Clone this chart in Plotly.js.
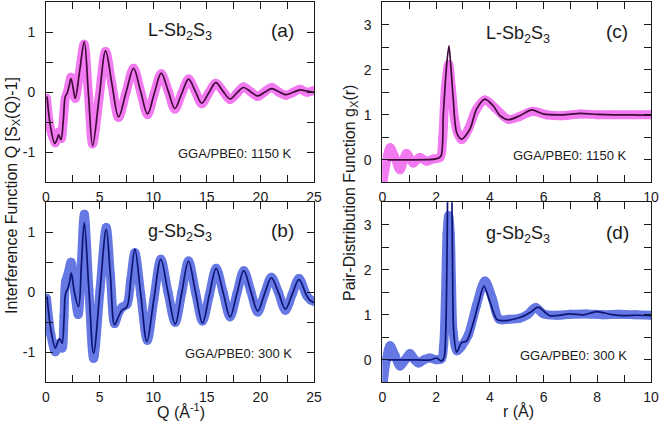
<!DOCTYPE html>
<html>
<head>
<meta charset="utf-8">
<script src="https://cdn.plot.ly/plotly-3.0.1.min.js"></script>
<style>html,body{margin:0;padding:0;background:#fff;}#chart{width:660px;height:424px;}</style>
</head>
<body>
<div id="chart"></div>
<script>
// ---------- Panel (a): L-Sb2S3, Q [S(Q)-1] ----------
var qA_exp = [0.05, 0.4, 0.85, 1.05, 1.2, 1.42, 1.62, 1.8, 1.96, 2.15, 2.33, 2.52, 2.73, 3.15, 3.55, 3.96, 4.35, 4.95, 5.56, 6.15, 6.77, 7.47, 8.17, 8.82, 9.47, 10.1, 10.75, 11.4, 12.02, 12.66, 13.3, 13.92, 14.53, 15.18, 15.84, 16.5, 17.17, 17.8, 18.42, 19.08, 19.75, 20.4, 21.06, 21.73, 22.4, 23.05, 23.7, 24.35, 25.0];
var vA_exp = [-0.1, -0.6, -0.84, -0.74, -0.66, -0.77, -0.45, -0.1, -0.02, 0.12, 0.25, 0.08, -0.1, 0.36, 0.8, -0.03, -0.86, -0.1, 0.68, 0.13, -0.42, 0.0, 0.40, 0.02, -0.37, -0.02, 0.31, 0.02, -0.28, -0.02, 0.22, 0.02, -0.19, -0.01, 0.15, 0.02, -0.12, -0.02, 0.09, 0.01, -0.07, 0.01, 0.08, 0.0, -0.05, 0.0, 0.05, 0.0, 0.03];
var qA_sim = [0.1, 0.4, 0.81, 1.0, 1.18, 1.4, 1.62, 1.8, 1.96, 2.15, 2.33, 2.52, 2.73, 3.15, 3.57, 3.96, 4.35, 4.95, 5.56, 6.15, 6.77, 7.47, 8.17, 8.82, 9.47, 10.1, 10.75, 11.4, 12.02, 12.66, 13.3, 13.92, 14.53, 15.18, 15.84, 16.5, 17.17, 17.8, 18.42, 19.08, 19.75, 20.4, 21.06, 21.73, 22.4, 23.05, 23.7, 24.35, 25.0];
var vA_sim = [-0.07, -0.55, -0.85, -0.8, -0.71, -0.79, -0.45, -0.07, -0.02, 0.1, 0.23, 0.08, -0.1, 0.37, 0.84, -0.03, -0.89, -0.1, 0.69, 0.14, -0.41, 0.0, 0.40, 0.02, -0.36, -0.02, 0.32, 0.02, -0.27, -0.02, 0.22, 0.02, -0.18, -0.01, 0.16, 0.02, -0.11, -0.01, 0.08, 0.01, -0.06, 0.0, 0.06, 0.01, -0.04, 0.0, 0.04, 0.02, 0.0];

// ---------- Panel (b): g-Sb2S3, Q [S(Q)-1] ----------
var qB_exp = [0.05, 0.45, 0.87, 1.05, 1.27, 1.5, 1.68, 1.83, 2.05, 2.33, 2.65, 3.0, 3.3, 3.57, 4.0, 4.44, 5.03, 5.62, 6.0, 6.4, 6.75, 7.1, 7.55, 7.9, 8.29, 8.85, 9.45, 10.06, 10.71, 11.38, 12.05, 12.67, 13.29, 13.95, 14.6, 15.23, 15.87, 16.52, 17.17, 17.81, 18.45, 19.1, 19.75, 20.38, 21.02, 21.68, 22.33, 22.97, 23.6, 24.3, 24.7, 25.0];
var vB_exp = [-0.1, -0.7, -0.99, -0.92, -0.85, -0.93, -0.4, 0.18, 0.3, 0.5, 0.05, -0.37, 0.5, 1.3, 0.05, -1.1, 0.02, 1.08, 0.3, -0.52, -0.35, -0.25, -0.2, 0.2, 0.66, -0.05, -0.8, -0.12, 0.55, 0.0, -0.5, 0.0, 0.52, 0.0, -0.48, -0.05, 0.40, 0.0, -0.41, -0.02, 0.36, 0.02, -0.33, -0.03, 0.25, 0.0, -0.3, -0.03, 0.23, -0.05, -0.13, -0.15];
var qB_sim = [0.1, 0.45, 0.87, 1.05, 1.27, 1.5, 1.68, 1.83, 2.05, 2.2, 2.36, 2.65, 3.04, 3.3, 3.57, 4.0, 4.44, 5.03, 5.62, 6.0, 6.4, 6.77, 7.08, 7.55, 7.9, 8.29, 8.85, 9.41, 10.06, 10.71, 11.38, 12.05, 12.67, 13.29, 13.95, 14.6, 15.23, 15.87, 16.52, 17.17, 17.81, 18.45, 19.1, 19.75, 20.38, 21.02, 21.68, 22.33, 22.97, 23.6, 24.3, 24.6, 25.0];
var vB_sim = [-0.07, -0.62, -0.93, -0.85, -0.77, -0.85, -0.45, -0.02, 0.07, 0.17, 0.32, 0.0, -0.24, 0.45, 1.16, 0.05, -1.02, 0.02, 1.05, 0.3, -0.54, -0.4, -0.3, -0.24, 0.2, 0.72, -0.05, -0.82, -0.12, 0.55, 0.0, -0.53, 0.0, 0.52, 0.0, -0.51, -0.05, 0.40, 0.0, -0.41, -0.02, 0.36, 0.02, -0.31, -0.03, 0.24, 0.0, -0.28, -0.03, 0.21, -0.05, -0.13, -0.17];

// ---------- Panel (c): L-Sb2S3, g(r) ----------
var rC_exp = [0.0, 0.12, 0.29, 0.47, 0.66, 0.9, 1.15, 1.4, 1.65, 1.9, 2.15, 2.25, 2.35, 2.47, 2.57, 2.68, 2.8, 2.95, 3.2, 3.5, 3.82, 4.2, 4.69, 5.1, 5.6, 6.1, 6.7, 7.4, 8.0, 8.6, 9.3, 10.0];
var gC_exp = [-0.6, -0.15, 0.27, 0.05, -0.22, 0.14, -0.07, 0.05, -0.03, 0.02, 0.05, 0.5, 1.6, 2.12, 1.6, 0.95, 0.6, 0.45, 0.68, 1.12, 1.33, 1.15, 0.9, 0.96, 1.08, 1.0, 0.98, 1.02, 1.0, 1.0, 1.0, 1.0];
var rC_sim = [0.2, 1.0, 2.0, 2.18, 2.27, 2.38, 2.48, 2.56, 2.64, 2.77, 2.95, 3.26, 3.51, 3.82, 4.13, 4.38, 4.69, 5.12, 5.56, 5.99, 6.7, 7.36, 8.0, 8.6, 9.3, 10.0];
var gC_sim = [0.0, 0.0, 0.02, 0.08, 1.0, 2.0, 2.53, 2.0, 1.35, 0.6, 0.46, 0.68, 1.13, 1.35, 1.2, 0.98, 0.89, 0.98, 1.11, 1.02, 1.0, 1.03, 1.01, 1.0, 1.0, 0.99];

// ---------- Panel (d): g-Sb2S3, g(r) ----------
var rD_exp = [0.02, 0.15, 0.29, 0.47, 0.66, 0.85, 1.03, 1.2, 1.34, 1.55, 1.77, 2.0, 2.2, 2.28, 2.35, 2.41, 2.47, 2.53, 2.58, 2.64, 2.78, 2.95, 3.2, 3.5, 3.82, 4.1, 4.35, 4.7, 5.1, 5.4, 5.7, 6.0, 6.5, 7.0, 7.6, 8.2, 8.8, 9.4, 10.0];
var gD_exp = [-0.6, 0.0, 0.31, 0.1, -0.14, 0.0, 0.14, 0.0, -0.07, 0.0, 0.04, 0.0, 0.02, 0.3, 1.4, 2.8, 3.2, 2.8, 1.6, 0.6, 0.2, 0.3, 0.55, 1.2, 1.75, 1.35, 0.9, 0.9, 0.92, 1.0, 1.16, 1.02, 0.99, 1.01, 1.02, 1.0, 1.01, 1.0, 0.99];
var rD_sim = [0.2, 1.0, 1.8, 2.02, 2.2, 2.3, 2.36, 2.41, 2.45, 2.51, 2.57, 2.61, 2.66, 2.77, 2.95, 3.14, 3.4, 3.6, 3.78, 4.0, 4.26, 4.5, 5.12, 5.5, 5.8, 6.24, 6.98, 7.5, 7.98, 8.5, 8.97, 9.5, 10.0];
var gD_sim = [0.0, 0.0, 0.0, 0.04, -0.03, 0.05, 0.6, 2.4, 4.6, 5.5, 4.6, 2.4, 0.6, 0.17, 0.38, 0.42, 0.85, 1.3, 1.64, 1.3, 0.9, 0.87, 0.94, 1.05, 1.17, 0.98, 1.02, 1.0, 1.07, 1.01, 0.98, 0.99, 0.98];

// tick labels
var yTickQ = [-1, 0, 1], yTickQText = ['-1', '0', '1'];
var yTickG = [0, 1, 2, 3], yTickGText = ['0', '1', '2', '3'];

var pink = '#f27af0', pinkDark = '#420a3a';
var blue = '#6578e4', blueDark = '#0d1575';

function expTrace(x, y, col, xa, ya) {
  return {x: x, y: y, xaxis: xa, yaxis: ya, type: 'scatter', mode: 'lines+markers',
    line: {color: col, width: 9, shape: 'spline', smoothing: 0.9},
    marker: {color: col, size: 9}, hoverinfo: 'skip', showlegend: false, cliponaxis: true};
}
function simTrace(x, y, col, xa, ya, sm) {
  return {x: x, y: y, xaxis: xa, yaxis: ya, type: 'scatter', mode: 'lines',
    line: {color: col, width: 1.7, shape: 'spline', smoothing: sm}, hoverinfo: 'skip', showlegend: false};
}

var data = [
  expTrace(qA_exp, vA_exp, pink, 'x', 'y'),
  simTrace(qA_sim, vA_sim, pinkDark, 'x', 'y', 1),
  expTrace(qB_exp, vB_exp, blue, 'x2', 'y2'),
  simTrace(qB_sim, vB_sim, blueDark, 'x2', 'y2', 1),
  expTrace(rC_exp, gC_exp, pink, 'x3', 'y3'),
  simTrace(rC_sim, gC_sim, pinkDark, 'x3', 'y3', 0.8),
  expTrace(rD_exp, gD_exp, blue, 'x4', 'y4'),
  simTrace(rD_sim, gD_sim, blueDark, 'x4', 'y4', 0.8)
];

var W = 660, H = 424;
function px(x) { return x / W; }
function py(y) { return 1 - y / H; }
var FONT = 'Arial, "Liberation Sans", sans-serif';
var ink = '#1a1a1a';

function axBase(extra) {
  var a = {showline: true, linecolor: ink, linewidth: 1, mirror: 'ticks', ticks: 'inside', ticklen: 7,
    tickcolor: ink, tickwidth: 1, showgrid: false, zeroline: false,
    tickfont: {family: FONT, size: 14, color: ink}};
  for (var k in extra) a[k] = extra[k];
  return a;
}
var xDomL = [px(46), px(314)], xDomR = [px(382.3), px(651)];
var yDomT = [py(182.3), py(2.3)], yDomB = [py(382.3), py(202.3)];

var layout = {
  width: W, height: H, margin: {l: 0, r: 0, t: 0, b: 0},
  paper_bgcolor: '#fff', plot_bgcolor: '#fff', showlegend: false,
  font: {family: FONT, color: ink},
  xaxis: axBase({domain: xDomL, anchor: 'y', range: [0, 25], tick0: 0, dtick: 5, ticklabelstandoff: 2,
    minor: {ticks: 'inside', ticklen: 7, tickcolor: ink, dtick: 2.5, tick0: 0, showgrid: false}}),
  yaxis: axBase({domain: yDomT, anchor: 'x', range: [-1.5, 1.5], tickmode: 'array', tickvals: yTickQ, ticktext: yTickQText, ticklabelstandoff: 7,
    minor: {ticks: 'inside', ticklen: 7, tickcolor: ink, dtick: 0.5, tick0: 0, showgrid: false}}),
  xaxis2: axBase({domain: xDomL, anchor: 'y2', range: [0, 25], tick0: 0, dtick: 5, ticklabelstandoff: 2,
    minor: {ticks: 'inside', ticklen: 7, tickcolor: ink, dtick: 2.5, tick0: 0, showgrid: false}}),
  yaxis2: axBase({domain: yDomB, anchor: 'x2', range: [-1.5, 1.5], tickmode: 'array', tickvals: yTickQ, ticktext: yTickQText, ticklabelstandoff: 7,
    minor: {ticks: 'inside', ticklen: 7, tickcolor: ink, dtick: 0.5, tick0: 0, showgrid: false}}),
  xaxis3: axBase({domain: xDomR, anchor: 'y3', range: [0, 10], tick0: 0, dtick: 2, ticklabelstandoff: 2,
    minor: {ticks: 'inside', ticklen: 7, tickcolor: ink, dtick: 1, tick0: 0, showgrid: false}}),
  yaxis3: axBase({domain: yDomT, anchor: 'x3', range: [-0.5, 3.5], tickmode: 'array', tickvals: yTickG, ticktext: yTickGText, ticklabelstandoff: 7,
    minor: {ticks: 'inside', ticklen: 7, tickcolor: ink, dtick: 0.5, tick0: 0, showgrid: false}}),
  xaxis4: axBase({domain: xDomR, anchor: 'y4', range: [0, 10], tick0: 0, dtick: 2, ticklabelstandoff: 2,
    minor: {ticks: 'inside', ticklen: 7, tickcolor: ink, dtick: 1, tick0: 0, showgrid: false}}),
  yaxis4: axBase({domain: yDomB, anchor: 'x4', range: [-0.5, 3.5], tickmode: 'array', tickvals: yTickG, ticktext: yTickGText, ticklabelstandoff: 7,
    minor: {ticks: 'inside', ticklen: 7, tickcolor: ink, dtick: 0.5, tick0: 0, showgrid: false}}),
  annotations: []
};

function ann(text, x, y, size, xanchor, rot) {
  var a = {text: text, xref: 'paper', yref: 'paper', x: px(x), y: py(y), showarrow: false,
    xanchor: xanchor || 'center', yanchor: 'middle', font: {family: FONT, size: size, color: ink}};
  if (rot) a.textangle = rot;
  return a;
}
var A = layout.annotations;
A.push(ann('L-Sb<sub>2</sub>S<sub>3</sub>', 180, 32, 18));
A.push(ann('(a)', 282, 30, 19));
A.push(ann('GGA/PBE0: 1150 K', 294, 153, 13, 'right'));
A.push(ann('g-Sb<sub>2</sub>S<sub>3</sub>', 180, 232, 18));
A.push(ann('(b)', 282, 230, 19));
A.push(ann('GGA/PBE0: 300 K', 294, 353, 13, 'right'));
A.push(ann('L-Sb<sub>2</sub>S<sub>3</sub>', 518, 34, 18));
A.push(ann('(c)', 617, 32, 19));
A.push(ann('GGA/PBE0: 1150 K', 629, 155, 13, 'right'));
A.push(ann('g-Sb<sub>2</sub>S<sub>3</sub>', 518, 234, 18));
A.push(ann('(d)', 617, 232, 19));
A.push(ann('GGA/PBE0: 300 K', 629, 355, 13, 'right'));
A.push(ann('Interference Function Q [S<sub>X</sub>(Q)-1]', 12, 196, 16, 'center', -90));
A.push(ann('Pair-Distribution Function g<sub>X</sub>(r)', 350, 193, 16, 'center', -90));
A.push(ann('Q (Å<sup>-1</sup>)', 181, 411, 16));
A.push(ann('r (Å)', 518, 411, 16));

Plotly.newPlot('chart', data, layout, {staticPlot: true, displayModeBar: false});
</script>
</body>
</html>
